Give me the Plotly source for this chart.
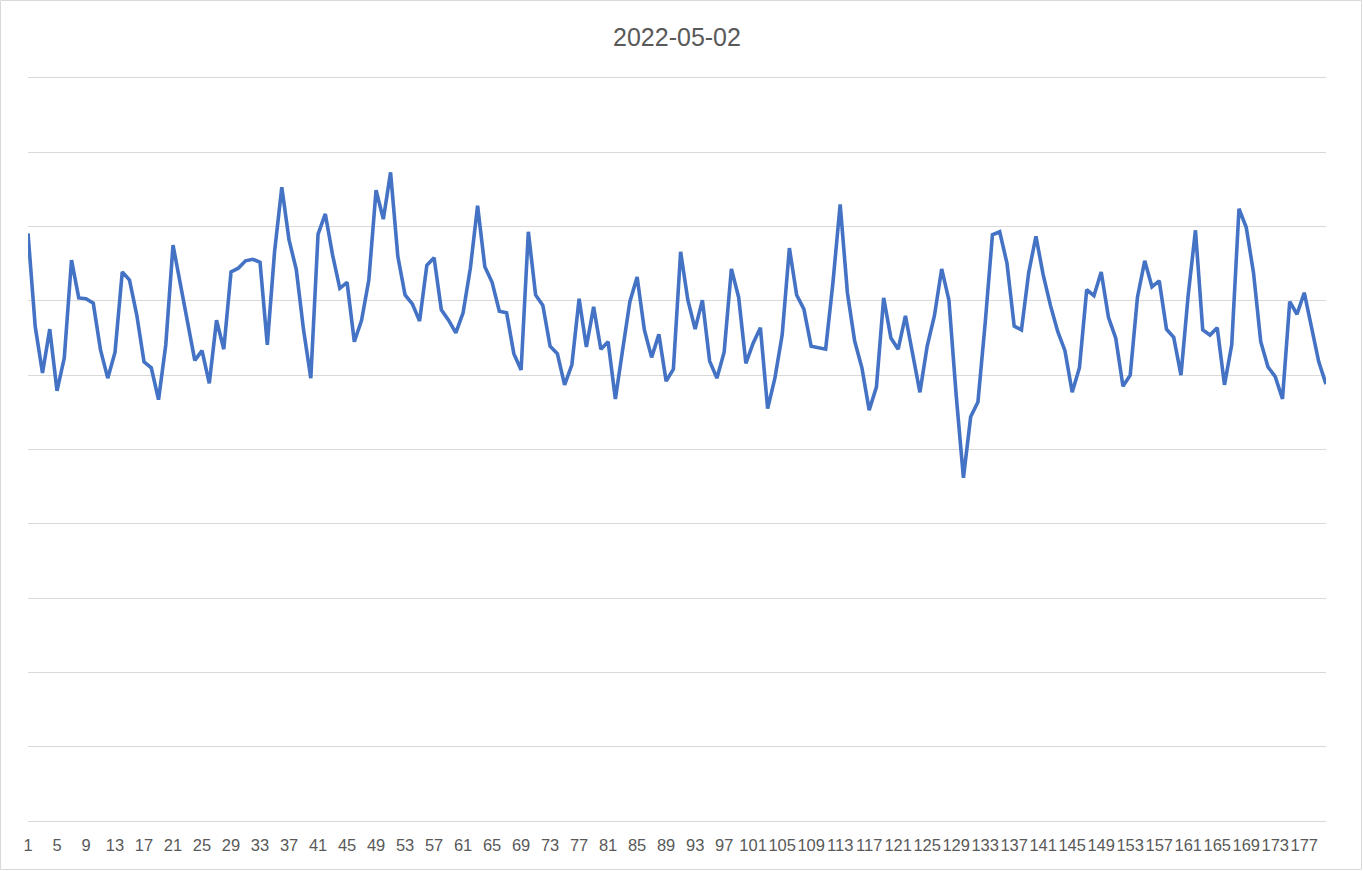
import plotly.graph_objects as go

title_text = "2022-05-02"
categories = list(range(1, 181))
values = [
    7.91, 6.65, 6.03, 6.62, 5.79, 6.23, 7.55, 7.04, 7.03, 6.97,
    6.34, 5.96, 6.31, 7.39, 7.28, 6.81, 6.18, 6.10, 5.67, 6.41,
    7.75, 7.25, 6.70, 6.20, 6.33, 5.89, 6.74, 6.35, 7.39, 7.44,
    7.54, 7.56, 7.52, 6.41, 7.66, 8.53, 7.82, 7.42, 6.61, 5.96,
    7.90, 8.17, 7.62, 7.17, 7.25, 6.45, 6.74, 7.28, 8.49, 8.10,
    8.73, 7.60, 7.08, 6.96, 6.73, 7.48, 7.58, 6.88, 6.74, 6.57,
    6.84, 7.44, 8.28, 7.46, 7.25, 6.86, 6.84, 6.29, 6.07, 7.93,
    7.08, 6.94, 6.39, 6.29, 5.87, 6.14, 7.03, 6.38, 6.92, 6.35,
    6.45, 5.68, 6.34, 6.99, 7.32, 6.61, 6.24, 6.55, 5.92, 6.08,
    7.66, 7.01, 6.62, 7.01, 6.19, 5.96, 6.31, 7.43, 7.05, 6.16,
    6.43, 6.64, 5.55, 5.96, 6.54, 7.71, 7.08, 6.89, 6.39, 6.37,
    6.35, 7.24, 8.30, 7.11, 6.46, 6.10, 5.53, 5.84, 7.04, 6.50,
    6.35, 6.80, 6.30, 5.77, 6.39, 6.80, 7.43, 7.01, 5.73, 4.62,
    5.44, 5.64, 6.70, 7.89, 7.93, 7.51, 6.66, 6.61, 7.38, 7.87,
    7.35, 6.94, 6.59, 6.33, 5.77, 6.10, 7.15, 7.07, 7.39, 6.78,
    6.50, 5.85, 6.00, 7.05, 7.54, 7.19, 7.27, 6.62, 6.51, 6.00,
    7.08, 7.95, 6.61, 6.54, 6.64, 5.87, 6.41, 8.24, 7.99, 7.38,
    6.45, 6.11, 5.98, 5.68, 6.99, 6.82, 7.11, 6.65, 6.18, 5.88,
]
tick_values = list(range(1, 181, 4))
tick_labels = [str(v) for v in tick_values]
grid_values = list(range(0, 11))

fig = go.Figure()
fig.add_trace(go.Scatter(
    x=categories, y=values, mode="lines",
    line=dict(color="#4472C4", width=3.6),
    hoverinfo="x+y", showlegend=False,
))

W, H = 1363, 871
ml, mr, mt, mb = 28, 37, 78, 50
pw, ph = W - ml - mr, H - mt - mb

fig.update_layout(
    width=W, height=H,
    margin=dict(l=ml, r=mr, t=mt, b=mb, pad=0),
    paper_bgcolor="white", plot_bgcolor="white",
    title=dict(text=title_text, x=0.5, xref="paper", xanchor="center",
               y=1 - 37 / H, yref="container", yanchor="middle",
               font=dict(family="Liberation Sans, Arial, sans-serif", size=25, color="#595959")),
    font=dict(family="Liberation Sans, Arial, sans-serif", size=16, color="#595959"),
    xaxis=dict(
        range=[1, 180], tickmode="array", tickvals=tick_values, ticktext=tick_labels,
        tickangle=0, automargin=False,
        showgrid=False, zeroline=False, showline=True, mirror=True,
        linecolor="#d9d9d9", linewidth=1.3, ticks="outside", ticklen=9,
        tickcolor="rgba(0,0,0,0)", tickfont=dict(size=16.5, color="#595959"),
        fixedrange=True,
    ),
    yaxis=dict(
        range=[0, 10], tickmode="array", tickvals=grid_values, showticklabels=False,
        showgrid=True, gridcolor="#d9d9d9", gridwidth=1.3, zeroline=False, showline=False,
        automargin=False, fixedrange=True,
    ),
    shapes=[dict(
        type="rect", xref="paper", yref="paper",
        x0=-(ml - 0.5) / pw, x1=1 + (mr - 1.5) / pw,
        y0=-(mb - 1.5) / ph, y1=1 + (mt - 0.5) / ph,
        line=dict(color="#d9d9d9", width=1), layer="below",
    )],
)

fig.write_html("out.html", config={"displayModeBar": False},
               post_script="document.body.style.margin='0';")
